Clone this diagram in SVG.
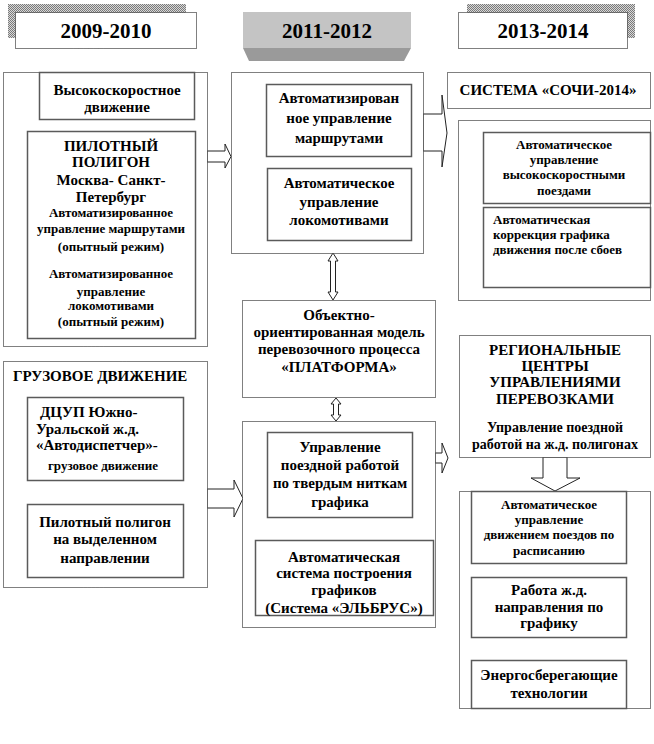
<svg xmlns="http://www.w3.org/2000/svg" width="654" height="744" viewBox="0 0 654 744">
<defs>
<pattern id="dots" width="2" height="2" patternUnits="userSpaceOnUse">
<rect width="2" height="2" fill="#d8d8d8"/>
<rect width="1" height="1" fill="#7a7a7a"/>
<rect x="1" y="1" width="1" height="1" fill="#7a7a7a"/>
</pattern>
</defs>
<style>
.outer{fill:#fff;stroke:#000;stroke-width:1;stroke-dasharray:1 1}
.inner{fill:#fff;stroke:#5a5a5a;stroke-width:1.5}
.arr{fill:#fff;stroke:#222;stroke-width:1}
text{font-family:"Liberation Serif","Times New Roman","DejaVu Serif",serif;font-weight:bold;fill:#000}
.c{text-anchor:middle}
.h{font-size:21px}
.m{font-size:15px}
.n{font-size:14px}
.s{font-size:13px}
</style>
<rect width="654" height="744" fill="#fff"/>

<!-- headers -->
<g id="hdr1">
<rect x="8" y="4" width="178" height="34" fill="url(#dots)"/>
<rect x="15.5" y="12.5" width="181" height="36" class="outer"/>
<text x="106" y="38" class="c h">2009-2010</text>
</g>
<g id="hdr2">
<polygon points="243,48 411,48 404,61 249,61" fill="#9a9a9a"/>
<rect x="243" y="12" width="168" height="36" fill="#c4c4c4"/>
<text x="327" y="38" class="c h">2011-2012</text>
</g>
<g id="hdr3">
<rect x="467" y="4" width="168" height="34" fill="url(#dots)"/>
<rect x="458.5" y="12.5" width="169" height="36" class="outer"/>
<text x="543" y="38" class="c h">2013-2014</text>
</g>

<!-- connectors -->
<g id="connectors">
<polygon class="arr" points="207,151 225,151 225,144 231,156.5 225,168 225,162 207,162"/>
<polygon class="arr" points="207,489 234,489 234,480 243,498.5 234,517 234,508 207,508"/>
<polygon class="arr" points="423,114 442,114 442,95 447,133 442,167 442,151 423,151"/>
<polygon class="arr" points="435,453 442,453 442,443 448,458 442,473 442,463 435,463"/>
<polygon class="arr" points="543,457 567,457 567,478 580,478 555,491 531,478 543,478"/>
<polygon class="arr" points="333,253 338,261 335.5,261 335.5,292 338,292 333,300 328,292 330.5,292 330.5,261 328,261"/>
<polygon class="arr" points="336,398 341,404 338.5,404 338.5,415 341,415 336,421 331,415 333.5,415 333.5,404 331,404"/>
</g>

<!-- left column -->
<g id="left-top">
<rect x="3.5" y="72.5" width="204" height="274" class="outer"/>
<rect x="39.5" y="72.5" width="155" height="47" class="inner"/>
<text x="117" y="95" class="c m">Высокоскоростное</text>
<text x="117" y="112" class="c m">движение</text>
</g>
<g id="pilot">
<rect x="27.5" y="131.5" width="168" height="207" class="inner"/>
<text x="111" y="151" class="c m">ПИЛОТНЫЙ</text>
<text x="111" y="167" class="c m">ПОЛИГОН</text>
<text x="111" y="185" class="c m">Москва- Санкт-</text>
<text x="111" y="202" class="c m">Петербург</text>
<text x="111" y="217" class="c s">Автоматизированное</text>
<text x="111" y="233" class="c s">управление маршрутами</text>
<text x="111" y="251" class="c s">(опытный режим)</text>
<text x="111" y="278" class="c s">Автоматизированное</text>
<text x="111" y="296" class="c s">управление</text>
<text x="111" y="310" class="c s">локомотивами</text>
<text x="111" y="326" class="c s">(опытный режим)</text>
</g>
<g id="left-bottom">
<rect x="3.5" y="361.5" width="204" height="226" class="outer"/>
<text x="13" y="381" class="m">ГРУЗОВОЕ ДВИЖЕНИЕ</text>
</g>
<g id="dcup">
<rect x="27.5" y="397.5" width="156" height="83" class="inner"/>
<text x="40" y="417" class="m">ДЦУП Южно-</text>
<text x="36" y="434" class="m">Уральской  ж.д.</text>
<text x="36" y="450" class="m">«Автодиспетчер»-</text>
<text x="103" y="470" class="c s">грузовое движение</text>
</g>
<g id="pilot2">
<rect x="27.5" y="504.5" width="156" height="73" class="inner"/>
<text x="105" y="527" class="c m">Пилотный полигон</text>
<text x="105" y="544" class="c m">на выделенном</text>
<text x="105" y="563" class="c m">направлении</text>
</g>

<!-- middle column -->
<g id="mid-top">
<rect x="231.5" y="72.5" width="192" height="181" class="outer"/>
</g>
<g id="routes">
<rect x="266.5" y="84.5" width="145" height="72" class="inner"/>
<text x="339" y="103" class="c m">Автоматизирован</text>
<text x="339" y="123" class="c m">ное управление</text>
<text x="339" y="143" class="c m">маршрутами</text>
</g>
<g id="locos">
<rect x="267.5" y="168.5" width="144" height="72" class="inner"/>
<text x="339" y="188" class="c m">Автоматическое</text>
<text x="339" y="207" class="c m">управление</text>
<text x="339" y="225" class="c m">локомотивами</text>
</g>
<g id="platform">
<rect x="242.5" y="300.5" width="193" height="97" class="outer"/>
<text x="339" y="320" class="c m">Объектно-</text>
<text x="339" y="337" class="c m">ориентированная модель</text>
<text x="339" y="354" class="c m">перевозочного процесса</text>
<text x="339" y="372" class="c m">«ПЛАТФОРМА»</text>
</g>
<g id="mid-bottom">
<rect x="242.5" y="421.5" width="193" height="206" class="outer"/>
</g>
<g id="threads">
<rect x="267.5" y="432.5" width="145" height="85" class="inner"/>
<text x="340" y="452" class="c m">Управление</text>
<text x="340" y="470" class="c m">поездной работой</text>
<text x="340" y="488" class="c m">по твердым ниткам</text>
<text x="340" y="507" class="c m">графика</text>
</g>
<g id="elbrus">
<rect x="255.5" y="540.5" width="178" height="75" class="inner"/>
<text x="344" y="562" class="c m">Автоматическая</text>
<text x="344" y="578" class="c m">система построения</text>
<text x="344" y="595" class="c m">графиков</text>
<text x="344" y="613" class="c m">(Система «ЭЛЬБРУС»)</text>
</g>

<!-- right column -->
<g id="sochi-title">
<rect x="447.5" y="72.5" width="203" height="36" class="outer"/>
<text x="548" y="95" class="c m">СИСТЕМА «СОЧИ-2014»</text>
</g>
<g id="sochi">
<rect x="458.5" y="120.5" width="192" height="180" class="outer"/>
</g>
<g id="hs-trains">
<rect x="483.5" y="132.5" width="167" height="71" class="inner"/>
<text x="564" y="149" class="c s">Автоматическое</text>
<text x="564" y="164" class="c s">управление</text>
<text x="564" y="179" class="c s">высокоскоростными</text>
<text x="564" y="195" class="c s">поездами</text>
</g>
<g id="correction">
<rect x="483.5" y="207.5" width="167" height="80" class="inner"/>
<text x="493" y="224" class="s">Автоматическая</text>
<text x="493" y="239" class="s">коррекция  графика</text>
<text x="493" y="254" class="s">движения после сбоев</text>
</g>
<g id="regional">
<rect x="459.5" y="335.5" width="191" height="122" class="outer"/>
<text x="555" y="355" class="c m">РЕГИОНАЛЬНЫЕ</text>
<text x="555" y="371" class="c m">ЦЕНТРЫ</text>
<text x="555" y="387" class="c m">УПРАВЛЕНИЯМИ</text>
<text x="555" y="404" class="c m">ПЕРЕВОЗКАМИ</text>
<text x="555" y="432" class="c n">Управление поездной</text>
<text x="555" y="449" class="c n">работой на ж.д. полигонах</text>
</g>
<g id="right-bottom">
<rect x="459.5" y="491.5" width="191" height="217" class="outer"/>
</g>
<g id="schedule">
<rect x="471.5" y="491.5" width="155" height="72" class="inner"/>
<text x="549" y="509" class="c s">Автоматическое</text>
<text x="549" y="524" class="c s">управление</text>
<text x="549" y="539" class="c s">движением поездов  по</text>
<text x="549" y="555" class="c s">расписанию</text>
</g>
<g id="direction">
<rect x="471.5" y="577.5" width="155" height="60" class="inner"/>
<text x="549" y="595" class="c m">Работа ж.д.</text>
<text x="549" y="612" class="c m">направления по</text>
<text x="549" y="628" class="c m">графику</text>
</g>
<g id="energy">
<rect x="471.5" y="660.5" width="155" height="48" class="inner"/>
<text x="549" y="680" class="c m">Энергосберегающие</text>
<text x="549" y="698" class="c m">технологии</text>
</g>
</svg>
